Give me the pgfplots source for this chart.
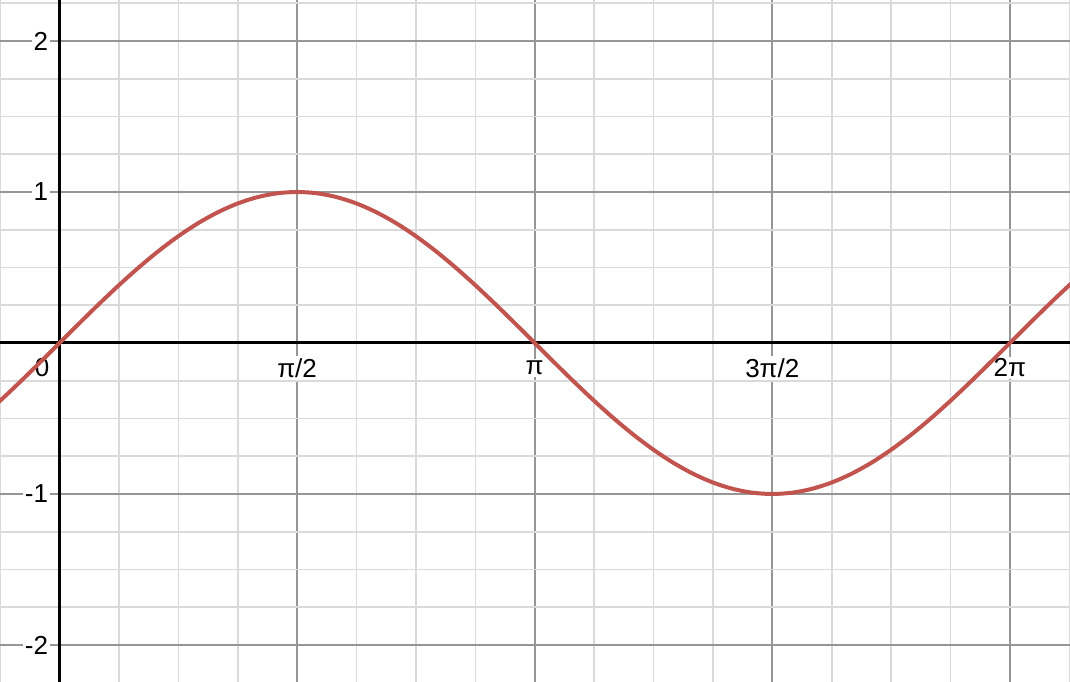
\documentclass[border=0pt]{standalone}
\usepackage{pgfplots}
\pgfplotsset{compat=1.18}
\usepackage{fontspec}
\setmainfont{Liberation Sans}
\definecolor{curve}{RGB}{194,84,79}
\definecolor{majgrid}{RGB}{150,150,150}
\definecolor{mingrid}{RGB}{218,218,218}
\begin{document}
\begin{tikzpicture}
\begin{axis}[
  scale only axis,
  width=535pt, height=341pt,
  xmin=-0.3934, xmax=6.6805,
  ymin=-2.245, ymax=2.2715,
  axis line style={draw=none},
  xtick={0,1.570796,3.141593,4.712389,6.283185},
  ytick={-2,-1,0,1,2},
  minor xtick={-0.392699,0.392699,0.785398,1.178097,1.963495,2.356194,2.748894,3.534292,3.926991,4.319690,5.105088,5.497787,5.890486,6.675884},
  minor ytick={-1.75,-1.5,-1.25,-0.75,-0.5,-0.25,0.25,0.5,0.75,1.25,1.5,1.75,2.25},
  xticklabels={}, yticklabels={},
  major tick length=0pt, minor tick length=0pt,
  grid=both,
  major grid style={draw=majgrid, line width=0.85pt},
  minor grid style={draw=mingrid, line width=0.8pt},
  clip=true,
]
\draw[black, line width=1.5pt] (axis cs:-0.3934,0) -- (axis cs:6.6805,0);
\draw[black, line width=1.5pt] (axis cs:0,-2.245) -- (axis cs:0,2.2715);
\tikzset{lab/.style={font=\fontsize{13}{15}\selectfont, fill=white, inner sep=1pt}}
\node[lab, anchor=east, xshift=-4.5pt] at (axis cs:0,2) {2};
\node[lab, anchor=east, xshift=-4.5pt] at (axis cs:0,1) {1};
\node[lab, anchor=east, xshift=-4.5pt] at (axis cs:0,-1) {-1};
\node[lab, anchor=east, xshift=-4.5pt] at (axis cs:0,-2) {-2};
\node[lab, yshift=-12.5pt, xshift=-8.75pt] at (axis cs:0,0) {0};
\node[lab, yshift=-12.5pt] at (axis cs:1.570796,0) {π/2};
\node[lab, yshift=-12.5pt] at (axis cs:3.141593,0) {π};
\node[lab, yshift=-12.5pt] at (axis cs:4.712389,0) {3π/2};
\node[lab, yshift=-12.5pt] at (axis cs:6.283185,0) {2π};
\addplot[curve, line width=2pt, smooth] coordinates {
(-0.523599,-0.5) (-0.392699,-0.382683) (-0.261799,-0.258819) (-0.130900,-0.130526)
(0,0) (0.130900,0.130526) (0.261799,0.258819) (0.392699,0.382683) (0.523599,0.5)
(0.654498,0.608761) (0.785398,0.707107) (0.916298,0.793353) (1.047198,0.866025)
(1.178097,0.923880) (1.308997,0.965926) (1.439897,0.991445) (1.570796,1)
(1.701696,0.991445) (1.832596,0.965926) (1.963495,0.923880) (2.094395,0.866025)
(2.225295,0.793353) (2.356194,0.707107) (2.487094,0.608761) (2.617994,0.5)
(2.748894,0.382683) (2.879793,0.258819) (3.010693,0.130526) (3.141593,0)
(3.272492,-0.130526) (3.403392,-0.258819) (3.534292,-0.382683) (3.665191,-0.5)
(3.796091,-0.608761) (3.926991,-0.707107) (4.057891,-0.793353) (4.188790,-0.866025)
(4.319690,-0.923880) (4.450590,-0.965926) (4.581489,-0.991445) (4.712389,-1)
(4.843289,-0.991445) (4.974188,-0.965926) (5.105088,-0.923880) (5.235988,-0.866025)
(5.366887,-0.793353) (5.497787,-0.707107) (5.628687,-0.608761) (5.759587,-0.5)
(5.890486,-0.382683) (6.021386,-0.258819) (6.152286,-0.130526) (6.283185,0)
(6.414085,0.130526) (6.544985,0.258819) (6.675884,0.382683) (6.806784,0.5)
};
\end{axis}
\pgfresetboundingbox
\path (current axis.south west) rectangle (current axis.north east);
\end{tikzpicture}
\end{document}
